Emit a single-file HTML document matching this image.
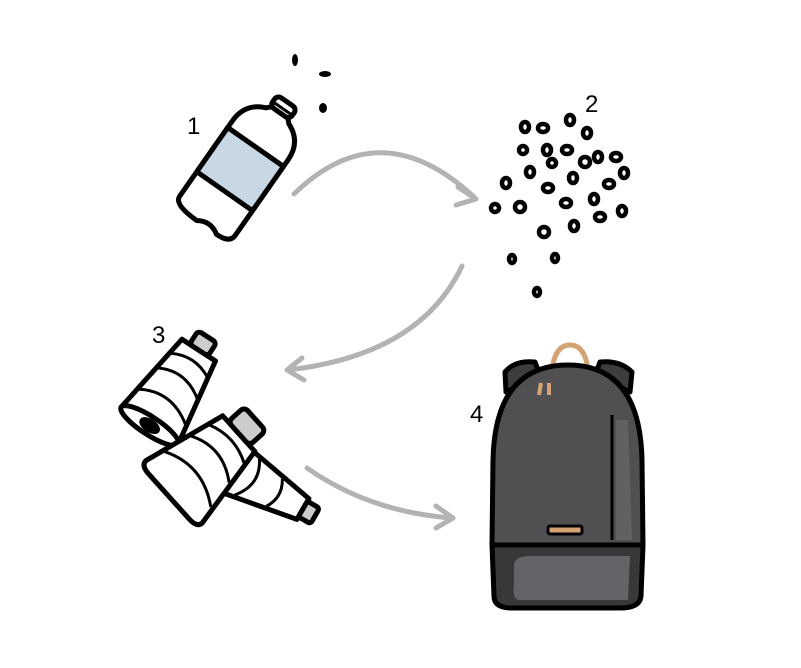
<!DOCTYPE html>
<html><head><style>body{margin:0;background:#fff}svg{display:block}</style></head><body>
<svg width="801" height="668" viewBox="0 0 801 668" xmlns="http://www.w3.org/2000/svg">
<g fill="none" stroke="#b3b3b5" stroke-width="5" stroke-linecap="round" stroke-linejoin="round">
<path d="M294,194 Q380,110 474,197"/><path d="M458,187 L476,199 L456,205"/>
<path d="M462,266 Q420,355 288,370"/><path d="M302,358 L287,370 L304,380"/>
<path d="M307,468 Q370,512 452,518"/><path d="M436,506 L453,518 L436,528"/>
</g>
<g font-family="Liberation Sans, sans-serif" font-size="24" fill="#000">
<text x="187" y="134">1</text><text x="585" y="112">2</text><text x="152" y="343">3</text><text x="470" y="422">4</text>
</g>
<!-- bottle -->
<g transform="translate(243,165) rotate(-55)" stroke="#000" stroke-width="5" stroke-linejoin="round">
<path d="M-62,-34 L30,-34 Q52,-34 60,-14 L64,-10 L64,10 L60,14 Q52,34 30,34 L-62,34 Q-72,34 -72,18 Q-64,6 -72,-6 Q-72,-34 -62,-34Z" fill="#fff"/>
<path d="M-32,-34 L22,-34 L22,34 L-32,34Z" fill="#c8d7e4"/>
<rect x="64" y="-12" width="13" height="24" rx="5" fill="#fff"/>
<path d="M69,-12 L69,12" stroke-width="3"/>
</g>
<g fill="#000"><ellipse cx="295" cy="60" rx="3" ry="6"/><ellipse cx="325" cy="74" rx="6" ry="3"/><ellipse cx="323" cy="108" rx="4" ry="5"/></g>
<!-- pellets -->
<g fill="#fff" stroke="#000" stroke-width="4.5">
<ellipse cx="525" cy="127" rx="4" ry="5"/><ellipse cx="543" cy="128" rx="5" ry="4"/><ellipse cx="570" cy="120" rx="4" ry="5"/><ellipse cx="587" cy="133" rx="4" ry="5"/>
<ellipse cx="523" cy="150" rx="4" ry="4"/><ellipse cx="547" cy="150" rx="4" ry="5"/><ellipse cx="567" cy="150" rx="5" ry="4"/><ellipse cx="598" cy="157" rx="4" ry="5"/><ellipse cx="616" cy="157" rx="5" ry="4"/>
<ellipse cx="530" cy="172" rx="4" ry="5"/><ellipse cx="552" cy="163" rx="4" ry="4"/><ellipse cx="585" cy="162" rx="5" ry="5"/><ellipse cx="506" cy="183" rx="4" ry="5"/><ellipse cx="548" cy="188" rx="5" ry="4"/><ellipse cx="573" cy="178" rx="4" ry="5"/><ellipse cx="609" cy="184" rx="5" ry="4"/><ellipse cx="624" cy="173" rx="4" ry="5"/>
<ellipse cx="495" cy="208" rx="4" ry="4"/><ellipse cx="520" cy="207" rx="5" ry="5"/><ellipse cx="566" cy="203" rx="5" ry="4"/><ellipse cx="594" cy="199" rx="4" ry="5"/><ellipse cx="622" cy="211" rx="4" ry="5"/>
<ellipse cx="544" cy="232" rx="5" ry="5"/><ellipse cx="574" cy="226" rx="4" ry="5"/><ellipse cx="600" cy="217" rx="5" ry="4"/><ellipse cx="512" cy="259" rx="3" ry="4"/><ellipse cx="555" cy="258" rx="3" ry="4"/><ellipse cx="537" cy="292" rx="3" ry="4"/>
</g>
<!-- spools -->
<g stroke="#000" stroke-width="5" stroke-linejoin="round" fill="#fff">
<g transform="translate(178,382) rotate(-57)">
<path d="M-52,-34 L38,-20 L38,20 L-52,34Z"/><rect x="38" y="-11" width="16" height="22" rx="4" fill="#ccc"/>
<ellipse cx="-52" cy="0" rx="9" ry="34"/><ellipse cx="-52" cy="0" rx="4" ry="9" fill="#000"/>
<path d="M-28,-30 Q-10,0 -32,30 M0,-26 Q15,0 -4,26 M20,-22 Q32,0 20,22" fill="none" stroke-width="3"/>
</g>
<g transform="translate(270,490) rotate(30)">
<path d="M-50,-28 L38,-12 L38,12 L-50,28 Q-56,0 -50,-28Z"/><rect x="38" y="-9" width="14" height="18" rx="3" fill="#ccc"/>
<path d="M-25,-22 Q-10,0 -28,22 M5,-16 Q15,0 5,16" fill="none" stroke-width="3"/>
</g>
<g transform="translate(215,455) rotate(-42)">
<path d="M-55,-42 Q-62,-42 -62,-30 L-62,30 Q-62,42 -55,42 L32,24 L32,-24Z"/><rect x="32" y="-16" width="22" height="32" rx="5" fill="#ccc"/>
<path d="M-35,-36 Q-15,0 -38,36 M-5,-30 Q12,0 -8,30 M16,-26 Q28,0 16,26" fill="none" stroke-width="3"/>
</g>
</g>
<!-- backpack -->
<g stroke="#000" stroke-width="5" stroke-linejoin="round">
<path d="M552,370 Q555,345 570,345 Q585,345 588,370" fill="none" stroke="#d4a373" stroke-width="5"/>
<path d="M506,392 L505,372 Q515,360 535,362 L540,375Z" fill="#3d3d3f"/>
<path d="M630,392 L632,372 Q620,360 600,362 L595,375Z" fill="#3d3d3f"/>
<path d="M492,545 L493,460 Q495,365 568,365 Q640,365 642,460 L643,545Z" fill="#505052"/>
<path d="M492,545 L643,545 L641,596 Q640,608 620,608 L512,608 Q494,608 494,596Z" fill="#38383a"/>
<path d="M514,565 Q515,556 530,556 L630,556 L628,600 L520,600 Q512,600 514,585Z" fill="#636467" stroke="none"/>
<path d="M612,415 L612,540" fill="none" stroke-width="3"/>
<path d="M616,420 L628,420 L632,540 L616,540Z" fill="#606163" stroke="none"/>
<rect x="548" y="526" width="34" height="8" rx="2" fill="#d4a373" stroke-width="3"/>
<path d="M541,383 L539,395 M549,383 L549,395" stroke="#d4a373" stroke-width="4"/>
</g>
</svg>
</body></html>
